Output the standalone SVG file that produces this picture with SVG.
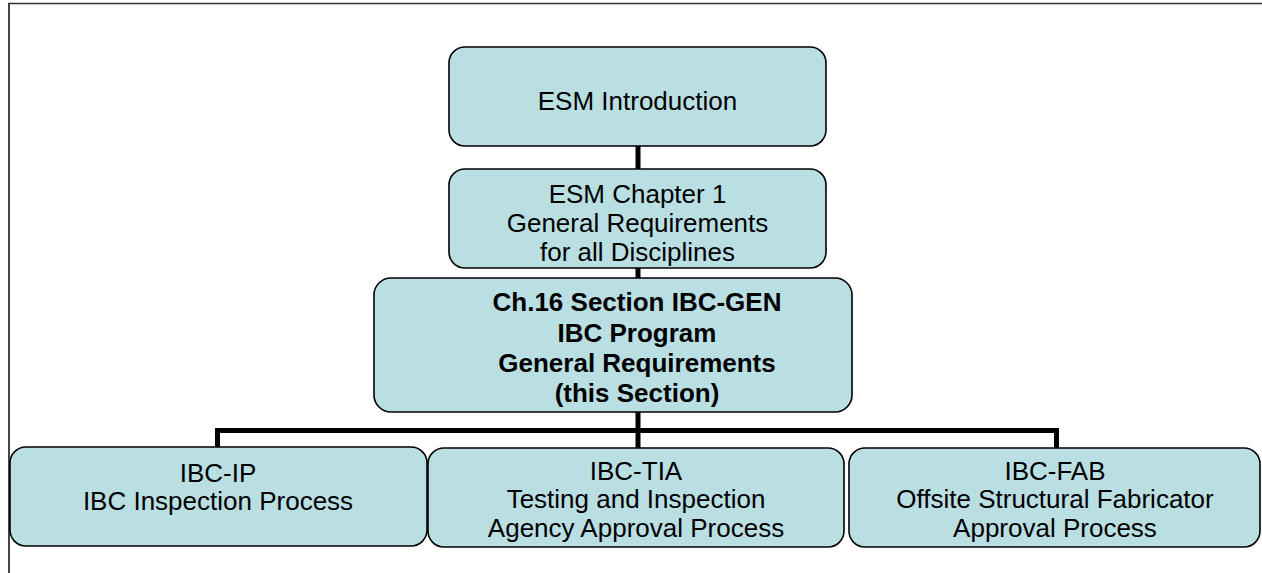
<svg xmlns="http://www.w3.org/2000/svg" width="1262" height="573" viewBox="0 0 1262 573">
<style>
.box{fill:#BADFE3;stroke:#000;stroke-width:1.6}
.t{font-family:"Liberation Sans",Arial,sans-serif;font-size:26px;fill:#000;text-anchor:middle}
.b{font-weight:bold}
.c{stroke:#000;stroke-width:5;fill:none;stroke-linecap:butt}
</style>
<rect width="1262" height="573" fill="#fff"/>
<g id="frame">
<line x1="8" y1="3.5" x2="1262" y2="3.5" stroke="#333" stroke-width="1.5"/>
<line x1="9" y1="3" x2="9" y2="573" stroke="#444" stroke-width="2"/>
</g>
<g id="connectors">
<line class="c" x1="638" y1="146" x2="638" y2="169"/>
<line class="c" x1="638" y1="268" x2="638" y2="278"/>
<line class="c" x1="638" y1="412" x2="638" y2="448"/>
<polyline class="c" points="217.5,448 217.5,430.5 1056.5,430.5 1056.5,448"/>
</g>
<g id="esm-intro">
<rect class="box" x="449" y="47" width="377" height="99" rx="16"/>
<text class="t" x="637.5" y="110">ESM Introduction</text>
</g>
<g id="esm-ch1">
<rect class="box" x="449" y="169" width="377" height="99" rx="16"/>
<text class="t" x="637.5" y="203">ESM Chapter 1</text>
<text class="t" x="637.5" y="232">General Requirements</text>
<text class="t" x="637.5" y="261">for all Disciplines</text>
</g>
<g id="ibc-gen">
<rect class="box" x="374" y="278" width="478" height="134" rx="17"/>
<text class="t b" x="637" y="311">Ch.16 Section IBC-GEN</text>
<text class="t b" x="637" y="342">IBC Program</text>
<text class="t b" x="637" y="372">General Requirements</text>
<text class="t b" x="637" y="402">(this Section)</text>
</g>
<g id="ibc-ip">
<rect class="box" x="10" y="447" width="417" height="99" rx="16"/>
<text class="t" x="218" y="482">IBC-IP</text>
<text class="t" x="218" y="510">IBC Inspection Process</text>
</g>
<g id="ibc-tia">
<rect class="box" x="428" y="448" width="416" height="99" rx="16"/>
<text class="t" x="636" y="480">IBC-TIA</text>
<text class="t" x="636" y="508">Testing and Inspection</text>
<text class="t" x="636" y="537">Agency Approval Process</text>
</g>
<g id="ibc-fab">
<rect class="box" x="849" y="448" width="411" height="99" rx="16"/>
<text class="t" x="1055" y="480">IBC-FAB</text>
<text class="t" x="1055" y="508">Offsite Structural Fabricator</text>
<text class="t" x="1055" y="537">Approval Process</text>
</g>
</svg>
